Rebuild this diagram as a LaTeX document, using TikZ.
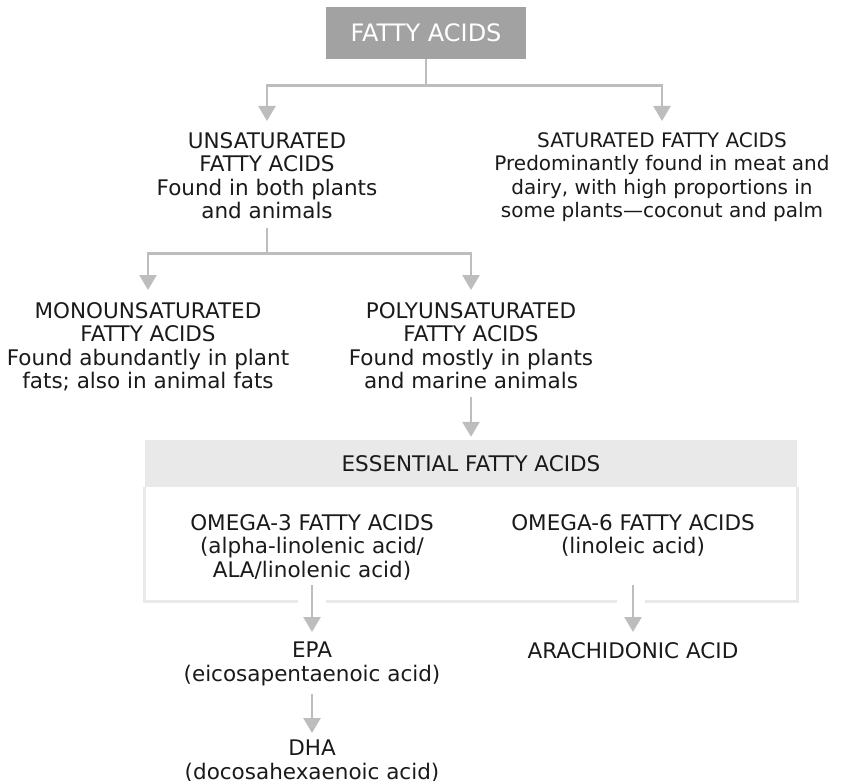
\documentclass[tikz,border=0pt]{standalone}
\usepackage{fontspec}
\setmainfont{DejaVu Sans}
\usepackage{xcolor}
\usetikzlibrary{arrows.meta}
\definecolor{ink}{HTML}{1A1A1A}
\definecolor{boxgray}{HTML}{A2A2A2}
\definecolor{bandgray}{HTML}{E9E9E9}
\definecolor{linegray}{HTML}{BDBDBD}

\begin{document}
\begin{tikzpicture}[x=1pt, y=-1pt,
      every node/.style={font=\fontsize{21.5}{23.5}\selectfont, text=ink},
      entry/.style={align=center, anchor=north, inner sep=0pt},
      topbox/.style={fill=boxgray, text=white, font=\fontsize{24}{26}\selectfont,
        minimum width=200pt, minimum height=52pt, inner sep=0pt},
      band/.style={fill=bandgray, minimum width=652pt, minimum height=47pt, inner sep=0pt},
      link/.style={draw=linegray, line width=2.7pt},
      arrow/.style={link, -{Triangle[width=17pt,length=15pt]}},
      frame/.style={draw=bandgray, line width=3pt}]

      \useasboundingbox (0,0) rectangle (841,781);

      \node[topbox] (fa) at (426,33) {FATTY ACIDS};
      \node[entry] (unsat) at (267,132) {UNSATURATED\\FATTY ACIDS\\Found in both plants\\and animals};
      \node[entry, font=\fontsize{20}{23.5}\selectfont] (sat) at (662,132) {SATURATED FATTY ACIDS\\Predominantly found in meat and\\dairy, with high proportions in\\some plants—coconut and palm};
      \node[entry] (mono) at (148,302) {MONOUNSATURATED\\FATTY ACIDS\\Found abundantly in plant\\fats; also in animal fats};
      \node[entry] (poly) at (471,302) {POLYUNSATURATED\\FATTY ACIDS\\Found mostly in plants\\and marine animals};
      \node[band] (ess) at (471,463.5) {ESSENTIAL FATTY ACIDS};
      \node[entry] (o3) at (312,514) {OMEGA-3 FATTY ACIDS\\(alpha-linolenic acid/\\ALA/linolenic acid)};
      \node[entry] (o6) at (633,514) {OMEGA-6 FATTY ACIDS\\(linoleic acid)};
      \node[entry] (epa) at (312,642) {EPA\\(eicosapentaenoic acid)};
      \node[entry] (ara) at (633,642) {ARACHIDONIC ACID};
      \node[entry] (dha) at (312,740) {DHA\\(docosahexaenoic acid)};

      % open frame under the band
      \draw[frame] (ess.south west) |- (298,601);
      \draw[frame] (326,601) -- (617,601);
      \draw[frame] (645,601) -| (ess.south east);

      \draw[link] (fa.south) -- ++(0,26) coordinate (split1);
      \draw[arrow, shorten >=11pt] (split1) -| (unsat.north);
      \draw[arrow, shorten >=11pt] (split1) -| (sat.north);

      \draw[link] (unsat.south) ++(0,9) -- ++(0,25) coordinate (split2);
      \draw[arrow, shorten >=12pt] (split2) -| (mono.north);
      \draw[arrow, shorten >=12pt] (split2) -| (poly.north);

      \draw[arrow, shorten <=8pt, shorten >=3pt] (poly.south) -- (ess.north);
      \draw[arrow, shorten >=10pt] (o3.south) ++(0,5) -- (epa.north);
      \draw[arrow, shorten >=10pt] (o6.south |- o3.south) ++(0,5) -- (ara.north);
      \draw[arrow, shorten <=8pt, shorten >=7pt] (epa.south) -- (dha.north);
\end{tikzpicture}
\end{document}
